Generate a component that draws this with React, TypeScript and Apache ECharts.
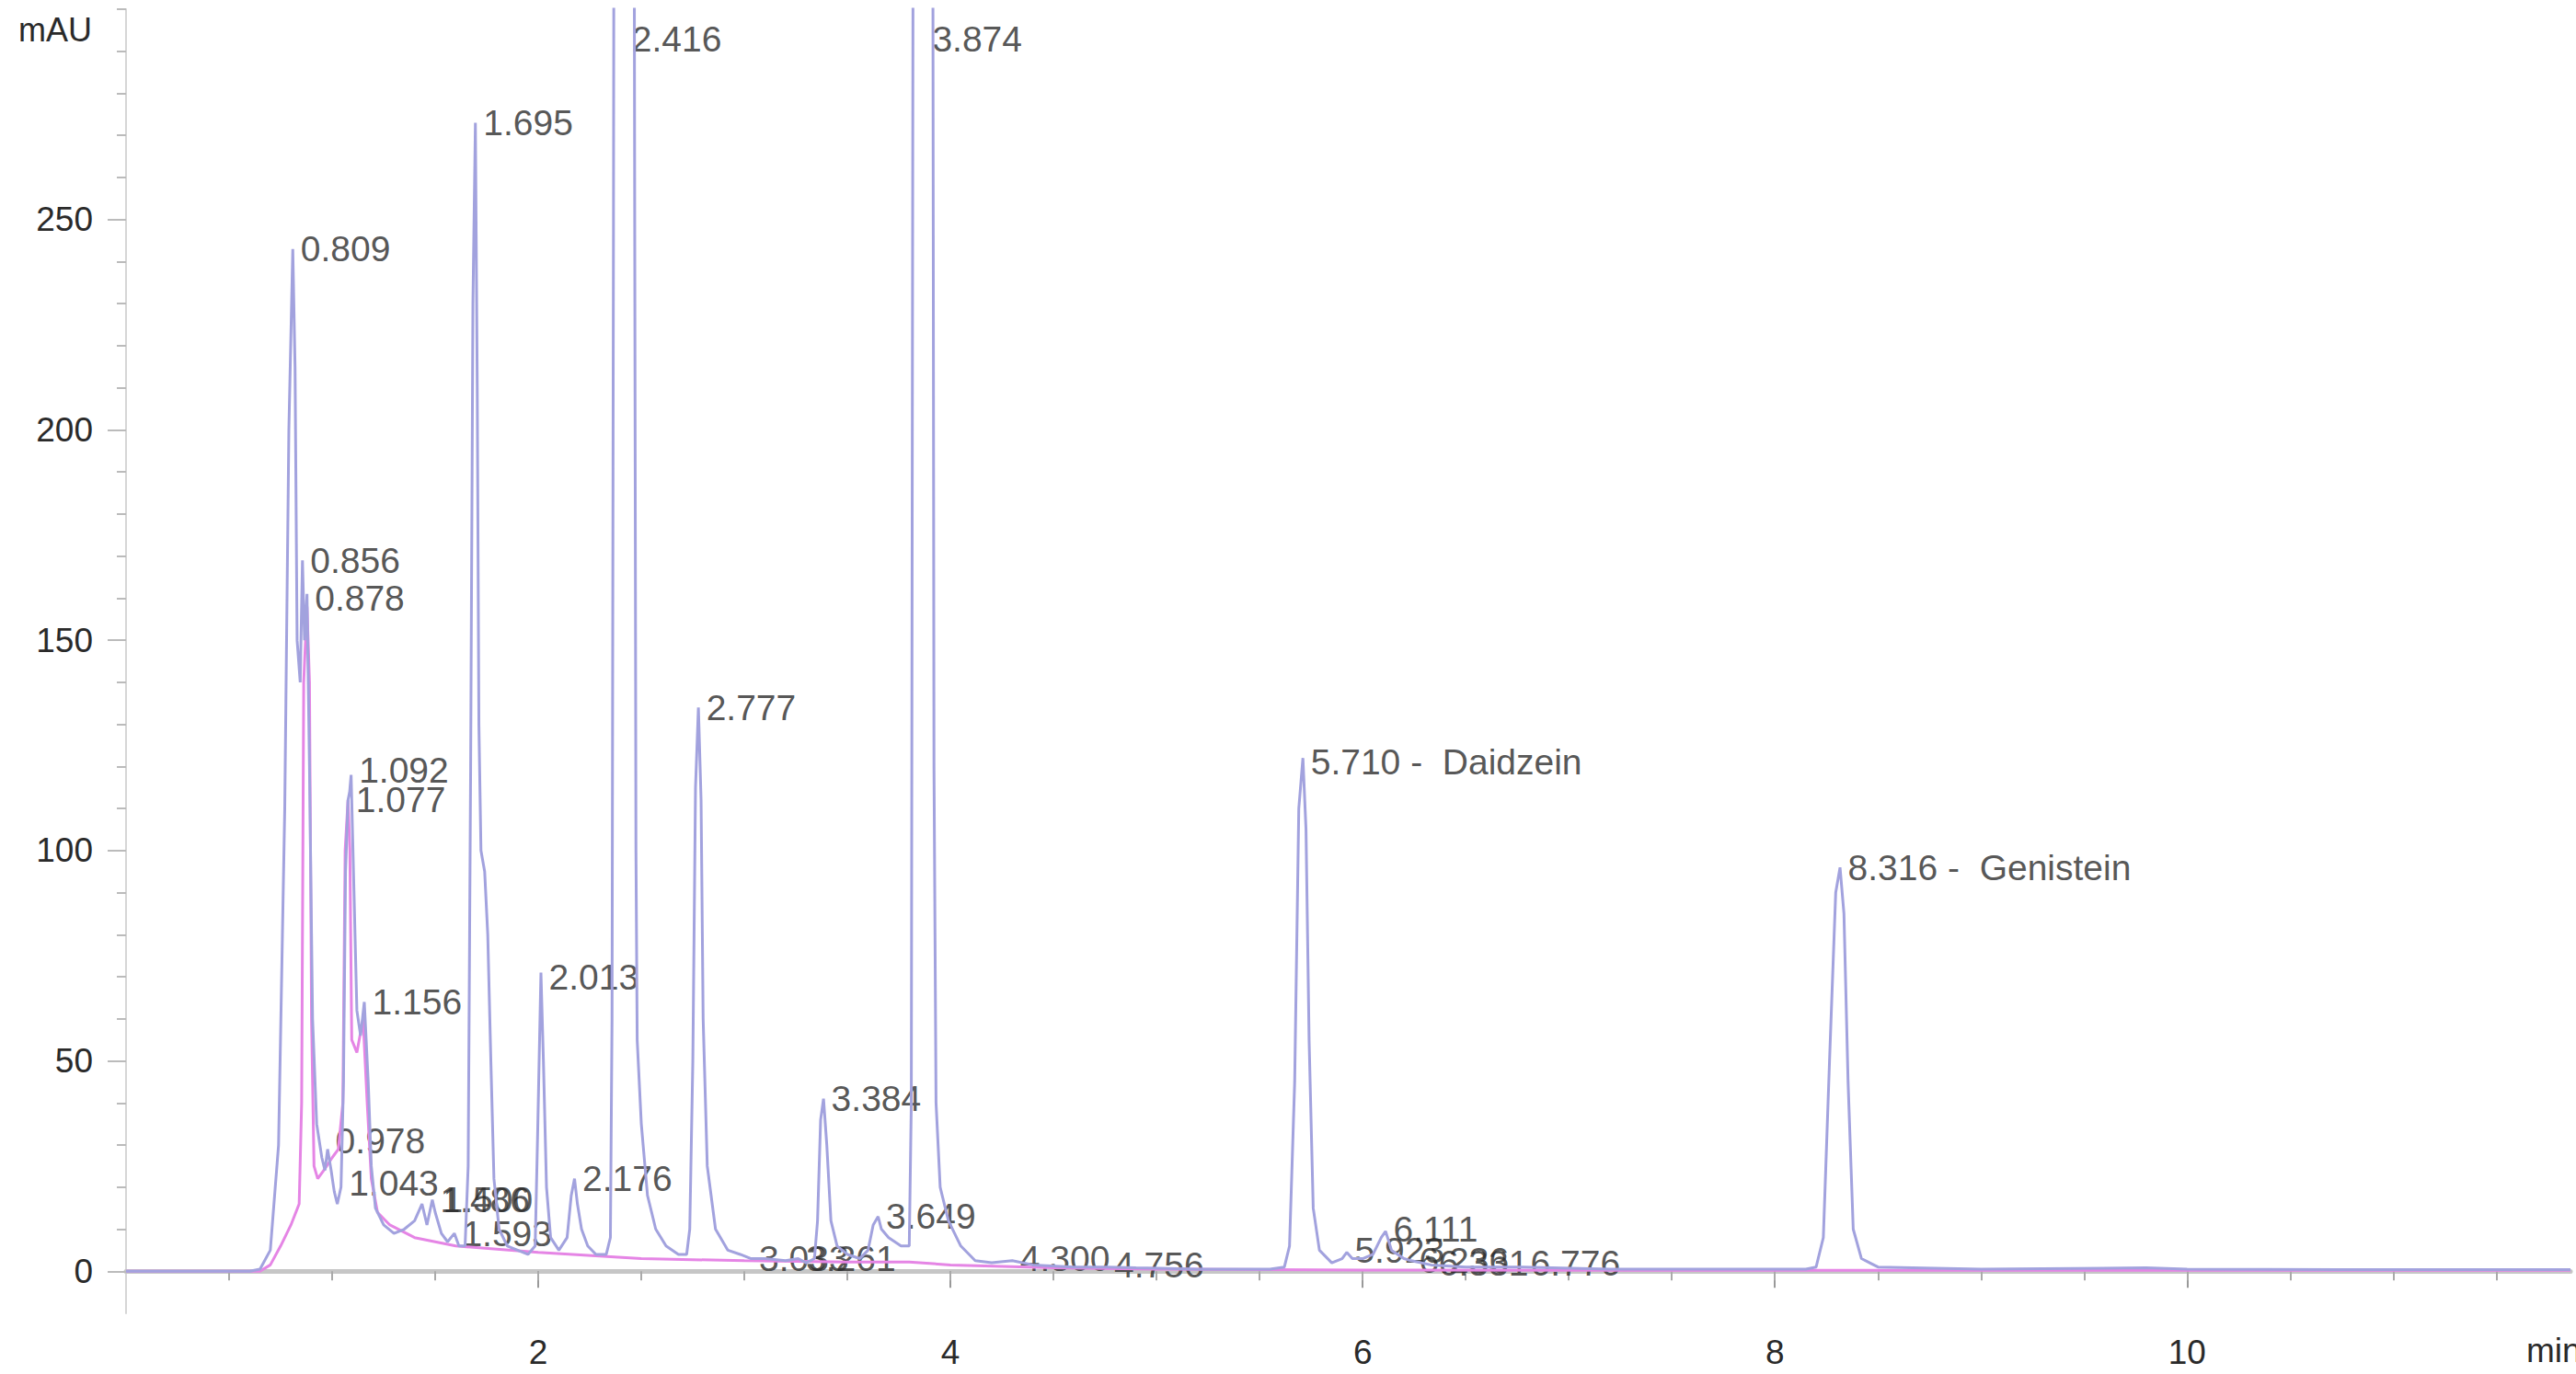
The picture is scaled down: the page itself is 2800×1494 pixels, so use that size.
import React, { useEffect, useRef } from "react";
import * as echarts from "echarts";

// Blue (main) chromatogram trace: [time (min), absorbance (mAU)]
const blueTrace: [number, number][] = [
  [0, 0], [0.6, 0], [0.65, 0.5], [0.7, 5], [0.74, 30], [0.77, 110], [0.79, 200], [0.809, 243],
  [0.82, 215], [0.83, 150], [0.845, 140], [0.856, 169], [0.866, 150], [0.878, 161], [0.89, 120],
  [0.905, 60], [0.925, 35], [0.95, 27], [0.965, 24], [0.978, 29], [0.995, 24], [1.01, 19],
  [1.025, 16], [1.043, 20], [1.055, 45], [1.065, 95], [1.077, 112], [1.085, 114], [1.092, 118],
  [1.105, 92], [1.12, 62], [1.138, 56], [1.156, 64], [1.175, 45], [1.19, 25], [1.21, 15],
  [1.25, 11], [1.3, 9], [1.35, 10], [1.4, 12], [1.436, 16], [1.46, 11], [1.486, 17], [1.5, 14],
  [1.53, 9], [1.56, 7], [1.593, 9], [1.615, 6], [1.645, 6], [1.66, 25], [1.672, 120], [1.683, 230],
  [1.695, 273], [1.704, 210], [1.712, 130], [1.722, 100], [1.74, 95], [1.755, 80], [1.77, 50],
  [1.785, 22], [1.81, 10], [1.85, 6], [1.9, 5], [1.95, 4], [1.985, 6], [1.998, 35], [2.013, 71],
  [2.025, 50], [2.04, 20], [2.06, 8], [2.1, 5], [2.14, 8], [2.16, 18], [2.176, 22], [2.19, 16],
  [2.21, 10], [2.24, 6], [2.28, 4], [2.33, 4], [2.35, 8], [2.358, 60], [2.365, 250], [2.372, 500],
  [2.416, 1200], [2.46, 500], [2.468, 250], [2.474, 100], [2.48, 55], [2.5, 35], [2.53, 18],
  [2.57, 10], [2.62, 6], [2.68, 4], [2.72, 4], [2.735, 10], [2.75, 50], [2.763, 115], [2.777, 134],
  [2.79, 112], [2.8, 60], [2.82, 25], [2.86, 10], [2.92, 5], [2.98, 4], [3.033, 3], [3.1, 3],
  [3.2, 2.5], [3.261, 3], [3.3, 2], [3.34, 3], [3.355, 12], [3.37, 36], [3.384, 41], [3.4, 30],
  [3.42, 12], [3.45, 6], [3.5, 4], [3.56, 3], [3.6, 5], [3.625, 11], [3.649, 13], [3.665, 10],
  [3.7, 8], [3.76, 6], [3.8, 6], [3.81, 40], [3.818, 300], [3.83, 600], [3.874, 1200],
  [3.91, 600], [3.915, 300], [3.92, 120], [3.93, 40], [3.95, 20], [3.99, 12], [4.05, 6],
  [4.12, 2.5], [4.2, 2], [4.3, 2.5], [4.4, 1.5], [4.6, 1], [4.756, 1], [4.9, 0.8], [5.2, 0.5],
  [5.55, 0.5], [5.62, 1], [5.645, 6], [5.67, 45], [5.69, 110], [5.71, 122], [5.725, 105],
  [5.74, 55], [5.76, 15], [5.79, 5], [5.85, 2], [5.9, 3], [5.923, 4.5], [5.95, 3], [6.0, 3],
  [6.05, 4], [6.09, 8], [6.111, 9.5], [6.14, 5], [6.2, 3], [6.236, 2.5], [6.331, 1.5], [6.5, 1],
  [6.776, 1], [7.2, 0.5], [7.7, 0.5], [8.15, 0.5], [8.2, 1], [8.235, 8], [8.265, 50], [8.295, 90],
  [8.316, 96], [8.335, 85], [8.355, 45], [8.38, 10], [8.42, 3], [8.5, 1], [9.0, 0.5], [9.8, 0.8],
  [10.0, 0.5], [10.8, 0.4], [11.86, 0.4],
];

// Pink (second) trace
const pinkTrace: [number, number][] = [
  [0, 0], [0.65, 0], [0.7, 1.5], [0.75, 6], [0.8, 11], [0.84, 16], [0.852, 40], [0.862, 140],
  [0.878, 158], [0.89, 140], [0.9, 60], [0.912, 25], [0.93, 22], [0.96, 24], [1.0, 27],
  [1.03, 29], [1.052, 40], [1.063, 100], [1.077, 112], [1.086, 100], [1.095, 55], [1.12, 52],
  [1.15, 60], [1.17, 40], [1.19, 22], [1.22, 14], [1.28, 11], [1.4, 8], [1.6, 6], [2.0, 4.5],
  [2.5, 3], [3.0, 2.5], [3.5, 2.2], [3.8, 2.2], [4.0, 1.5], [4.5, 0.8], [5.0, 0.5], [6.0, 0.3],
  [8.0, 0.2], [11.86, 0.2],
];

// Peak annotations
const peakTimes = [0.809, 0.856, 0.878, 0.978, 1.043, 1.077, 1.092, 1.156, 1.486, 1.5, 1.593, 1.695,
  2.013, 2.176, 2.416, 2.777, 3.033, 3.261, 3.384, 3.649, 3.874, 4.3, 4.756, 5.71, 5.923, 6.111,
  6.236, 6.331, 6.776, 8.316];
const peakTexts = ["0.809", "0.856", "0.878", "0.978", "1.043", "1.077", "1.092", "1.156", "1.486",
  "1.500", "1.593", "1.695", "2.013", "2.176", "2.416", "2.777", "3.033", "3.261", "3.384", "3.649",
  "3.874", "4.300", "4.756", "5.710 -  Daidzein", "5.923", "6.111", "6.236", "6.331", "6.776",
  "8.316 -  Genistein"];
const peakHeights = [243, 169, 160, 31, 21, 112, 119, 64, 17, 17, 9, 273, 70, 22, 1200, 134, 3, 3, 41,
  13, 1200, 3, 1.5, 121, 5, 10, 2.5, 2, 2, 96];

// Axis ticks
const xMajorTicks = [2, 4, 6, 8, 10];
const xMinorTicks = [0.5, 1, 1.5, 2, 2.5, 3, 3.5, 4, 4.5, 5, 5.5, 6, 6.5, 7, 7.5, 8, 8.5, 9, 9.5, 10,
  10.5, 11, 11.5];
const yMajorTicks = [0, 50, 100, 150, 200, 250];
const yMinorTicks = [0, 10, 20, 30, 40, 50, 60, 70, 80, 90, 100, 110, 120, 130, 140, 150, 160, 170,
  180, 190, 200, 210, 220, 230, 240, 250, 260, 270, 280, 290, 300];

const FONT = "'Liberation Sans', Arial, sans-serif";
const TEXT_COLOR = "#2a2a2a";

export default function App() {
  const ref = useRef<HTMLDivElement>(null);
  useEffect(() => {
    if (!ref.current) return;
    const chart = echarts.init(ref.current, null, { renderer: "svg" });
    const labelData = peakTimes.map((t, i) => [t, Math.min(peakHeights[i], 293), peakTexts[i]]);
    const X_MAX = 11.86;
    const Y_MIN = -10;
    const Y_MAX = 300;
    chart.setOption({
      animation: false,
      backgroundColor: "#ffffff",
      grid: { left: 137, right: 6, top: 10, bottom: 66, containLabel: false },
      xAxis: [
        {
          type: "value", min: 0, max: X_MAX, position: "bottom",
          axisLine: { show: true, lineStyle: { color: "#c6c6c6", width: 5 } },
          axisTick: { show: true, customValues: xMajorTicks, length: 18, lineStyle: { color: "#999", width: 2 } },
          axisLabel: {
            show: true, customValues: xMajorTicks, margin: 24,
            fontSize: 37, fontFamily: FONT, color: TEXT_COLOR,
          },
          splitLine: { show: false },
        },
        {
          type: "value", min: 0, max: X_MAX, position: "bottom", offset: 0,
          axisLine: { show: false },
          axisTick: { show: true, customValues: xMinorTicks, length: 10, lineStyle: { color: "#aaa", width: 2 } },
          axisLabel: { show: false },
          splitLine: { show: false },
        },
      ],
      yAxis: [
        {
          type: "value", min: Y_MIN, max: Y_MAX, position: "left",
          axisLine: { show: true, lineStyle: { color: "#d6d6d6", width: 2 } },
          axisTick: { show: true, customValues: yMajorTicks, length: 20, lineStyle: { color: "#bbb", width: 2 } },
          axisLabel: {
            show: true, customValues: yMajorTicks, margin: 36,
            fontSize: 37, fontFamily: FONT, color: TEXT_COLOR,
          },
          splitLine: { show: false },
        },
        {
          type: "value", min: Y_MIN, max: Y_MAX, position: "left", offset: 0,
          axisLine: { show: false },
          axisTick: { show: true, customValues: yMinorTicks, length: 10, lineStyle: { color: "#bbb", width: 2 } },
          axisLabel: { show: false },
          splitLine: { show: false },
        },
      ],
      series: [
        {
          type: "line", name: "pink", data: pinkTrace, xAxisIndex: 0, yAxisIndex: 0,
          showSymbol: false, symbol: "none", clip: true,
          lineStyle: { color: "#e585e5", width: 3 },
        },
        {
          type: "line", name: "blue", data: blueTrace, xAxisIndex: 0, yAxisIndex: 0,
          showSymbol: false, symbol: "none", clip: true,
          lineStyle: { color: "#a2a2de", width: 3 },
        },
        {
          type: "scatter", name: "labels", data: labelData, xAxisIndex: 0, yAxisIndex: 0,
          symbolSize: 1, itemStyle: { color: "rgba(0,0,0,0)" }, clip: false,
          label: {
            show: true, position: "right", distance: 8,
            formatter: (p: any) => p.value[2],
            fontSize: 39, fontFamily: FONT, color: TEXT_COLOR,
          },
        },
      ],
      graphic: [
        { type: "text", left: 20, top: 14, style: { text: "mAU", font: `36px ${FONT}`, fill: TEXT_COLOR } },
        { type: "text", left: 2746, top: 1450, style: { text: "min", font: `37px ${FONT}`, fill: TEXT_COLOR } },
      ],
    });
    return () => chart.dispose();
  }, []);
  return (
    <div
      ref={ref}
      style={{ position: "absolute", left: 0, top: 0, width: 2800, height: 1494, background: "#fff" }}
    />
  );
}
